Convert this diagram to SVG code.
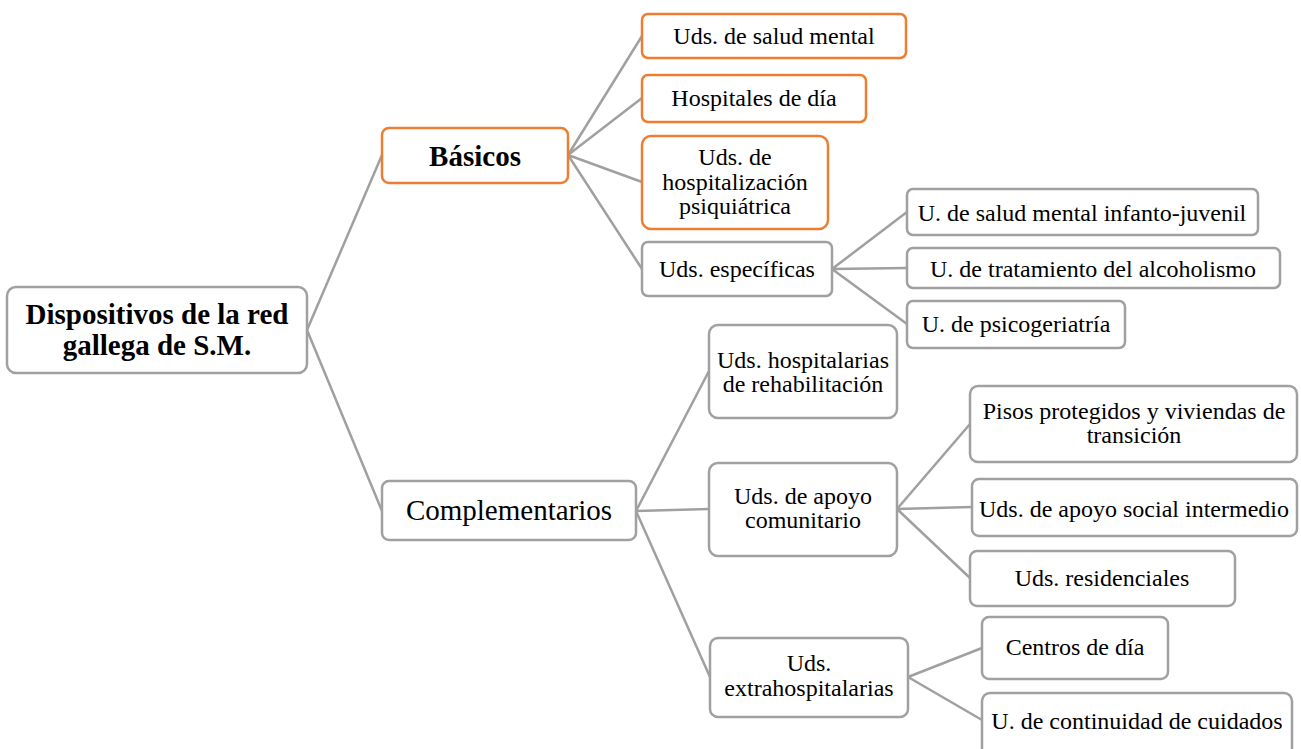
<svg xmlns="http://www.w3.org/2000/svg" width="1301" height="749" viewBox="0 0 1301 749">
  <defs>
    <style>
      .box { fill: #ffffff; stroke: #a0a0a0; stroke-width: 2.5; }
      .hot { fill: #ffffff; stroke: #ed7d31; stroke-width: 2.5; }
      .link { fill: none; stroke: #a0a0a0; stroke-width: 2.5; }
      .t { font-size: 24px; }
      .big { font-size: 29px; }
      .bold { font-size: 29px; font-weight: bold; }
    </style>
  </defs>
  <rect width="1301" height="749" fill="#ffffff"/>

  <!-- connectors -->
  <g id="connectors">
    <path class="link" d="M307 330 L382 155 M307 330 L382 511"/>
    <path class="link" d="M568 155 L642 36 M568 155 L642 98 M568 155 L642 182 M568 155 L642 269"/>
    <path class="link" d="M832 269 L907 212 M832 269 L907 268 M832 269 L907 324"/>
    <path class="link" d="M636 511 L709 371 M636 511 L709 509 M636 511 L710 677"/>
    <path class="link" d="M897 509 L970 424 M897 509 L972 507 M897 509 L970 578"/>
    <path class="link" d="M908 677 L982 648 M908 677 L982 720"/>
  </g>

  <g font-family="Liberation Serif, Tinos, Times New Roman, serif" fill="#000000" text-anchor="middle">
  <!-- root -->
  <g id="root">
    <rect class="box" x="7" y="287" width="300" height="86" rx="9"/>
    <text class="bold" x="157" y="324">Dispositivos de la red</text>
    <text class="bold" x="157" y="355">gallega de S.M.</text>
  </g>

  <!-- first level -->
  <g id="basicos">
    <rect class="hot" x="382" y="128" width="186" height="55" rx="7"/>
    <text class="bold" x="475" y="166">Básicos</text>
  </g>
  <g id="complementarios">
    <rect class="box" x="382" y="481" width="254" height="59" rx="7"/>
    <text class="big" x="509" y="520">Complementarios</text>
  </g>

  <!-- basic units -->
  <g id="salud-mental">
    <rect class="hot" x="642" y="14" width="264" height="44" rx="6"/>
    <text class="t" x="774" y="44">Uds. de salud mental</text>
  </g>
  <g id="hospitales-dia">
    <rect class="hot" x="642" y="75" width="224" height="47" rx="6"/>
    <text class="t" x="754" y="106">Hospitales de día</text>
  </g>
  <g id="hospitalizacion">
    <rect class="hot" x="642" y="136" width="186" height="93" rx="9"/>
    <text class="t" x="735" y="165">Uds. de</text>
    <text class="t" x="735" y="190">hospitalización</text>
    <text class="t" x="735" y="214">psiquiátrica</text>
  </g>
  <g id="especificas">
    <rect class="box" x="642" y="242" width="190" height="54" rx="6"/>
    <text class="t" x="737" y="277">Uds. específicas</text>
  </g>

  <!-- specific units -->
  <g id="infanto-juvenil">
    <rect class="box" x="907" y="189" width="351" height="46" rx="6"/>
    <text class="t" x="1082" y="221">U. de salud mental infanto-juvenil</text>
  </g>
  <g id="alcoholismo">
    <rect class="box" x="907" y="248" width="373" height="40" rx="6"/>
    <text class="t" x="1093" y="277">U. de tratamiento del alcoholismo</text>
  </g>
  <g id="psicogeriatria">
    <rect class="box" x="907" y="301" width="218" height="47" rx="6"/>
    <text class="t" x="1016" y="332">U. de psicogeriatría</text>
  </g>

  <!-- complementary units -->
  <g id="rehabilitacion">
    <rect class="box" x="709" y="325" width="188" height="93" rx="9"/>
    <text class="t" x="803" y="368" font-size="23">Uds. hospitalarias</text>
    <text class="t" x="803" y="392" font-size="23">de rehabilitación</text>
  </g>
  <g id="apoyo-comunitario">
    <rect class="box" x="709" y="463" width="188" height="93" rx="9"/>
    <text class="t" x="803" y="504">Uds. de apoyo</text>
    <text class="t" x="803" y="528">comunitario</text>
  </g>
  <g id="extrahospitalarias">
    <rect class="box" x="710" y="638" width="198" height="79" rx="8"/>
    <text class="t" x="809" y="671">Uds.</text>
    <text class="t" x="809" y="696">extrahospitalarias</text>
  </g>

  <!-- community support units -->
  <g id="pisos">
    <rect class="box" x="970" y="386" width="327" height="76" rx="8"/>
    <text class="t" x="1134" y="419">Pisos protegidos y viviendas de</text>
    <text class="t" x="1134" y="443">transición</text>
  </g>
  <g id="apoyo-social">
    <rect class="box" x="972" y="479" width="325" height="57" rx="7"/>
    <text class="t" x="1134" y="517">Uds. de apoyo social intermedio</text>
  </g>
  <g id="residenciales">
    <rect class="box" x="970" y="551" width="265" height="55" rx="7"/>
    <text class="t" x="1102" y="586">Uds. residenciales</text>
  </g>

  <!-- outpatient units -->
  <g id="centros-dia">
    <rect class="box" x="982" y="617" width="186" height="62" rx="7"/>
    <text class="t" x="1075" y="655">Centros de día</text>
  </g>
  <g id="continuidad">
    <rect class="box" x="982" y="693" width="310" height="70" rx="8"/>
    <text class="t" x="1137" y="729">U. de continuidad de cuidados</text>
  </g>
  </g>
</svg>
